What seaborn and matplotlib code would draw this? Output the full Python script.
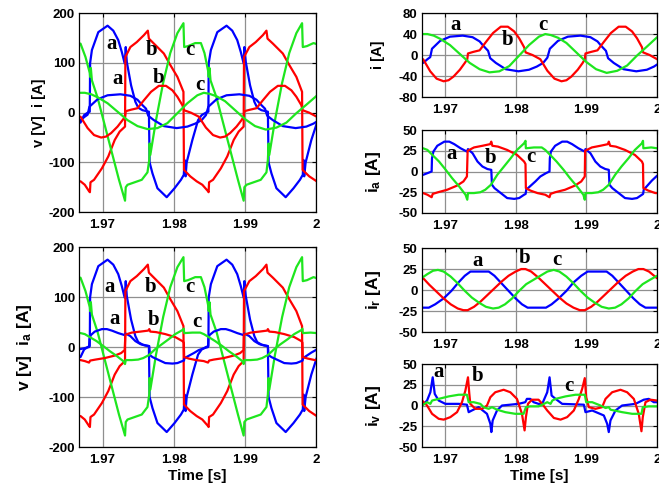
import numpy as np
import pandas as pd
import seaborn as sns
import matplotlib.pyplot as plt

sns.set_theme(style='white')
plt.rcParams['font.family'] = ['Liberation Sans', 'DejaVu Sans']
plt.rcParams['font.weight'] = 'bold'
plt.rcParams['axes.unicode_minus'] = False
plt.rcParams['mathtext.fontset'] = 'custom'
plt.rcParams['mathtext.rm'] = 'Liberation Sans:bold'
plt.rcParams['mathtext.it'] = 'Liberation Sans:bold'
plt.rcParams['mathtext.bf'] = 'Liberation Sans:bold'

T0 = 1.96  # time values below are in ms after this instant

# supply voltages (V) - (ms, value)
va = [(6.9, -20), (7.4, -5), (7.9, 0), (8.2, 2), (8.25, 100), (8.5, 126), (9.4, 162), (10.7, 175),
      (11.5, 165), (12.2, 146), (12.7, 122), (13.1, 99), (13.25, 132), (13.4, 102), (14.0, 55),
      (14.6, 22), (15.0, 10), (15.6, 5), (16.5, 2), (16.6, -100), (17.0, -122), (17.7, -152),
      (19.0, -170), (20.1, -152), (21.0, -135), (21.4, -125), (21.5, -95), (21.65, -128),
      (21.8, -100), (22.6, -55), (23.4, -15), (23.9, -5), (24.5, 0), (24.85, 2), (24.9, 100),
      (25.2, 126), (26.1, 162), (27.4, 175), (28.2, 165), (28.9, 146), (29.4, 122), (29.8, 99),
      (29.9, 132), (30.1, 102), (30.7, 55), (31.3, 22), (31.7, 10), (32.3, 5), (33.2, 2),
      (33.3, -100), (33.7, -122), (34.4, -152), (35.7, -170), (36.8, -152), (37.7, -135),
      (38.1, -125), (38.2, -95), (38.3, -128), (38.5, -100), (39.3, -55), (40.05, -22)]
vb = [(6.9, -138), (7.5, -145), (8.1, -158), (8.22, -160), (8.3, -140), (8.8, -135), (9.9, -112),
      (10.8, -88), (11.7, -55), (12.4, -38), (13.15, -28), (13.2, 112), (13.9, 132), (14.8, 142),
      (15.8, 156), (16.35, 165), (16.5, 149), (17.2, 139), (18.6, 119), (19.5, 96), (20.5, 72),
      (21.35, 42), (21.42, -115), (22.3, -128), (23.2, -138), (24.0, -145), (24.8, -158),
      (24.88, -160), (24.95, -140), (25.5, -135), (26.6, -112), (27.5, -88), (28.4, -55),
      (29.1, -38), (29.8, -28), (29.85, 112), (30.6, 132), (31.5, 142), (32.5, 156), (33.0, 165),
      (33.15, 149), (33.9, 139), (35.3, 119), (36.2, 96), (37.2, 72), (38.0, 42), (38.07, -115),
      (39.0, -128), (40.05, -138)]
vc = [(6.9, 139), (7.6, 112), (8.2, 80), (8.25, 72), (8.35, 90), (8.5, 65), (9.3, 30), (10.3, -25),
      (11.3, -80), (12.3, -135), (13.15, -177), (13.25, -150), (13.5, -145), (14.5, -140),
      (15.5, -135), (16.3, -120), (16.55, -95), (16.6, -62), (16.7, -85), (17.5, -15), (18.5, 60),
      (19.5, 120), (20.5, 160), (21.35, 180), (21.45, 132), (22.0, 134), (23.0, 140), (23.8, 140),
      (24.3, 120), (24.8, 85), (24.9, 72), (25.0, 90), (25.15, 65), (26.0, 30), (27.0, -25),
      (28.0, -80), (29.0, -135), (29.8, -177), (29.9, -150), (30.2, -145), (31.2, -140),
      (32.2, -135), (33.0, -120), (33.2, -95), (33.3, -62), (33.4, -85), (34.2, -15), (35.2, 60),
      (36.2, 120), (37.2, 160), (38.0, 180), (38.1, 132), (38.7, 134), (39.6, 140), (40.05, 138)]

# load currents i (A)
i_a = [(6.9, -15), (7.5, -8), (7.9, -4), (8.15, 12), (9.3, 27), (10.7, 35), (12.5, 37), (13.9, 34),
       (14.9, 26), (15.4, 18), (16.1, 8), (16.4, -6), (17.2, -15), (18.6, -27), (20.4, -31),
       (21.9, -28), (23.0, -22), (23.9, -15), (24.5, -5), (24.85, 12), (26.0, 27), (27.4, 35),
       (29.2, 37), (30.6, 34), (31.6, 26), (32.1, 18), (32.8, 8), (33.1, -6), (33.9, -15),
       (35.3, -27), (37.1, -31), (38.6, -28), (39.6, -22), (40.05, -18)]
i_b = [(6.9, -8), (7.9, -31), (8.8, -45), (9.8, -50), (10.5, -48), (11.2, -41), (12.1, -28),
       (12.8, -15), (13.15, -8), (13.25, 3), (14.0, 6), (14.9, 9), (15.8, 25), (16.8, 42),
       (17.9, 54), (18.9, 54), (19.8, 45), (20.5, 32), (21.2, 15), (21.42, 5), (22.4, 0),
       (23.5, -8), (24.5, -30), (25.5, -45), (26.5, -50), (27.2, -48), (27.9, -41), (28.8, -28),
       (29.5, -15), (29.8, -8), (29.9, 3), (30.7, 6), (31.6, 9), (32.5, 25), (33.5, 42),
       (34.6, 54), (35.6, 54), (36.5, 45), (37.2, 32), (37.9, 15), (38.07, 5), (39.0, 0),
       (40.05, -8)]
i_c = [(6.9, 40), (7.5, 40), (8.4, 37), (9.3, 31), (10.7, 19), (12.1, 2), (13.5, -15), (14.9, -27),
       (16.3, -33), (17.7, -31), (19.1, -21), (20.5, -1), (21.9, 19), (23.3, 35), (24.2, 40),
       (25.0, 38), (26.0, 33), (27.2, 23), (28.6, 5), (30.0, -13), (31.4, -27), (32.9, -34),
       (34.4, -30), (35.8, -20), (37.2, -1), (38.6, 16), (40.05, 34)]

# source currents ia (A)
ia_a = [(6.9, -4), (7.5, -2), (8.1, 0), (8.15, 16), (8.35, 24), (8.9, 31), (9.9, 36), (10.6, 36),
        (11.3, 33), (12.2, 28), (13.1, 24), (13.25, 27), (13.9, 22), (14.6, 12), (15.3, 6),
        (16.0, 3), (16.55, 2), (16.65, -16), (17.0, -20), (17.9, -26), (18.8, -32), (19.8, -33),
        (20.5, -32), (21.2, -28), (21.42, -27), (21.5, -22), (22.8, -12), (23.5, -6), (24.3, -2),
        (24.8, 0), (24.85, 16), (25.0, 24), (25.6, 31), (26.6, 36), (27.3, 36), (28.0, 33),
        (28.9, 28), (29.8, 24), (29.9, 27), (30.6, 22), (31.3, 12), (32.0, 6), (32.7, 3),
        (33.2, 2), (33.3, -16), (33.7, -20), (34.6, -26), (35.5, -32), (36.5, -33), (37.2, -32),
        (37.9, -28), (38.07, -27), (38.15, -22), (39.3, -11), (40.05, -5)]
ia_b = [(6.9, -26), (7.5, -28), (8.1, -31), (8.25, -27), (9.0, -25), (10.3, -22), (11.7, -17),
        (12.6, -12), (13.1, -6), (13.2, 25), (14.1, 29), (15.3, 31), (16.4, 33), (16.55, 36),
        (16.7, 31), (17.5, 30), (18.8, 26), (20.2, 20), (21.2, 12), (21.4, 9), (21.45, -20),
        (22.1, -23), (23.1, -26), (24.2, -28), (24.8, -31), (24.95, -27), (25.6, -25),
        (27.0, -22), (28.4, -17), (29.3, -12), (29.8, -6), (29.85, 25), (30.8, 29), (32.0, 31),
        (33.1, 33), (33.2, 36), (33.4, 31), (34.2, 30), (35.5, 26), (36.9, 20), (37.9, 12),
        (38.05, 9), (38.1, -20), (38.8, -23), (39.8, -26), (40.05, -26)]
ia_c = [(6.9, 28), (7.5, 26), (8.2, 20), (9.15, 12), (10.1, 2), (11.0, -8), (12.0, -18), (12.9, -28),
        (13.15, -34), (13.25, -26), (14.1, -26), (15.0, -25), (15.7, -22), (16.5, -16), (17.4, -4),
        (18.35, 6), (19.3, 16), (20.2, 26), (21.2, 34), (21.4, 37), (21.45, 28), (22.6, 29),
        (23.7, 29), (24.2, 26), (24.9, 20), (25.8, 12), (26.8, 2), (27.7, -8), (28.7, -18),
        (29.6, -28), (29.8, -34), (29.9, -26), (30.8, -26), (31.7, -25), (32.4, -22), (33.2, -16),
        (34.1, -4), (35.0, 6), (36.0, 16), (36.9, 26), (37.9, 34), (38.05, 37), (38.1, 28),
        (39.2, 29), (40.05, 28)]

# ir (A)
ir_a = [(6.8, -21), (7.7, -21), (8.6, -17), (9.8, -10), (10.9, -1), (11.9, 9), (12.8, 17),
        (13.6, 22), (16.2, 22), (17.0, 17), (18.0, 8), (19.0, -1), (20.0, -10), (20.9, -17),
        (21.7, -21), (24.3, -21), (25.1, -17), (26.1, -10), (27.2, -1), (28.2, 9), (29.3, 17),
        (30.2, 22), (32.9, 22), (33.7, 17), (34.7, 8), (35.7, -1), (36.7, -10), (37.6, -17),
        (38.4, -21), (40.05, -21)]
ir_b = [(6.8, 15), (7.8, 6), (8.8, -2), (9.8, -10), (10.8, -17), (11.8, -22), (12.6, -24),
        (13.2, -24), (14.1, -20), (15.0, -14), (16.0, -6), (17.0, 2), (18.0, 10), (19.0, 17),
        (20.0, 22), (20.8, 25), (21.4, 25), (22.2, 22), (23.2, 15), (24.2, 7), (25.2, -1),
        (26.2, -9), (27.2, -16), (28.2, -21), (29.1, -24), (29.8, -24), (30.7, -20), (31.6, -14),
        (32.6, -6), (33.6, 2), (34.6, 10), (35.6, 17), (36.6, 22), (37.4, 25), (38.1, 25),
        (38.9, 22), (40.05, 14)]
ir_c = [(6.8, 15), (7.5, 19), (8.3, 23), (9.0, 24), (9.8, 22), (10.8, 16), (11.8, 8), (12.8, -1),
        (13.8, -9), (14.8, -15), (15.8, -20), (16.8, -22), (17.6, -21), (18.5, -17), (19.5, -10),
        (20.5, -1), (21.5, 7), (22.5, 12), (23.5, 17), (24.5, 22), (25.4, 24), (26.2, 22),
        (27.2, 16), (28.2, 8), (29.2, -1), (30.2, -9), (31.2, -15), (32.2, -20), (33.2, -22),
        (34.1, -21), (35.0, -17), (36.0, -10), (37.0, -1), (38.0, 7), (39.0, 12), (40.05, 17)]

# iv (A)
iv_a = [(6.75, 0), (7.45, 6), (7.92, 16), (8.25, 34), (8.54, 14), (9.1, 6), (10.05, 2), (11.93, 2),
        (13.1, 1), (13.35, -8), (13.8, -6), (14.76, -2), (15.94, -10), (16.42, -22), (16.56, -32),
        (16.75, -18), (17.36, -6), (18.07, 0), (20.42, 2), (21.37, 4), (21.6, 8), (22.08, 8),
        (22.55, 4), (23.25, 2), (23.77, 2), (24.48, 16), (24.81, 34), (25.1, 12), (25.66, 8),
        (26.6, 2), (29.67, 1), (29.9, -8), (30.85, -6), (32.5, -12), (32.97, -22), (33.2, -32),
        (33.44, -18), (34.15, -6), (35.09, 0), (36.98, 2), (38.16, 7), (38.87, 8), (39.58, 4),
        (40.05, 4)]
iv_b = [(6.75, 6), (7.45, 0), (8.16, -10), (9.1, -16), (9.81, -17), (10.75, -14), (11.7, -8),
        (12.4, 4), (12.88, 18), (13.25, 34), (13.44, 14), (13.58, 2), (14.29, -4), (15.24, -4),
        (15.94, 0), (16.42, 10), (17.12, 16), (18.3, 19), (19.25, 16), (20.19, 8), (20.9, -10),
        (21.27, -30), (21.46, -14), (21.75, 2), (22.3, 7), (23.25, 7), (23.77, 2), (24.48, -6),
        (25.42, -15), (26.37, -17), (27.3, -14), (28.25, -6), (28.96, 8), (29.43, 20), (29.8, 33),
        (30.0, 10), (30.38, -2), (31.32, -4), (32.26, -2), (32.74, 8), (33.68, 16), (34.86, 19),
        (35.8, 16), (36.75, 8), (37.45, -10), (37.83, -31), (38.02, -14), (38.4, 4), (39.1, 7),
        (40.05, 6)]
iv_c = [(6.75, 0), (7.45, 4), (7.92, 2), (8.16, 6), (9.1, 8), (10.52, 11), (11.93, 13), (13.1, 13),
        (13.35, 4), (14.06, 4), (15.0, 2), (15.47, -2), (16.18, -4), (16.65, -2), (17.36, -5),
        (18.54, -8), (19.95, -10), (21.13, -10), (21.46, -2), (22.08, -1), (23.25, -1), (23.77, 1),
        (24.48, 4), (24.95, 2), (25.2, 6), (25.66, 8), (27.08, 11), (28.49, 13), (29.8, 13),
        (30.0, 4), (30.85, 4), (32.03, 0), (32.74, -3), (33.2, -2), (33.44, -5), (35.09, -8),
        (36.51, -10), (37.83, -10), (38.02, -2), (38.87, -1), (40.05, -1)]

xticks = [1.97, 1.98, 1.99, 2.0]
xtick_labels = ['1.97', '1.98', '1.99', '2']

BLUE, RED, GREEN = '#0000ff', '#ff0000', '#1ee61e'


def to_frame(pairs):
    df = pd.DataFrame(pairs, columns=['ms', 'val'])
    df['t'] = T0 + df['ms'] / 1000.0
    return df


def panel(ax, curves, ylim, yticks, ylabel, tags, label_x, label_size, xlabel=False):
    for pairs, col in curves:
        sns.lineplot(data=to_frame(pairs), x='t', y='val', ax=ax, color=col, linewidth=1.6,
                     sort=False, estimator=None, legend=False)
    ax.set_xlim(1.9667, 2.0)
    ax.set_ylim(*ylim)
    ax.set_xticks(xticks)
    ax.set_xticklabels(xtick_labels)
    ax.set_yticks(yticks)
    ax.grid(True, color='#8f8f8f', linewidth=0.9)
    ax.tick_params(direction='in', top=True, right=True, length=3, width=0.8,
                   labelsize=9.5, colors='black')
    ax.tick_params(axis='x', pad=5)
    ax.tick_params(axis='y', pad=3)
    for s in ax.spines.values():
        s.set_color('black')
        s.set_linewidth(0.9)
    ax.set_ylabel(ylabel, fontsize=label_size, fontweight='bold', color='black')
    ax.yaxis.set_label_coords(label_x, 0.5)
    ax.set_xlabel('Time [s]' if xlabel else '', fontsize=11, fontweight='bold',
                  color='black', labelpad=2)
    for ms, val, s in tags:
        ax.text(T0 + ms / 1000.0, val, s, family='Liberation Serif', fontweight='bold',
                fontsize=15, ha='center', va='center', color='black')


fig = plt.figure(figsize=(6.59, 4.91), dpi=100)

ax1 = fig.add_axes([0.120, 0.568, 0.360, 0.405])
panel(ax1, [(va, BLUE), (vb, RED), (vc, GREEN), (i_a, BLUE), (i_b, RED), (i_c, GREEN)],
      (-200, 200), [-200, -100, 0, 100, 200], 'v [V]  i [A]',
      [(11.3, 139, 'a'), (16.9, 126, 'b'), (22.2, 126, 'c'),
       (12.1, 67, 'a'), (17.9, 69, 'b'), (23.6, 55, 'c')], -0.14, 10.5)

ax2 = fig.add_axes([0.120, 0.0896, 0.360, 0.407])
panel(ax2, [(va, BLUE), (vb, RED), (vc, GREEN), (ia_a, BLUE), (ia_b, RED), (ia_c, GREEN)],
      (-200, 200), [-200, -100, 0, 100, 200], r'v [v]  i$_{\rm a}$ [A]',
      [(11.0, 121, 'a'), (16.7, 121, 'b'), (22.2, 121, 'c'),
       (11.7, 57, 'a'), (17.2, 55, 'b'), (23.3, 50, 'c')], -0.19, 12.5, xlabel=True)

rx, rw = 0.640, 0.3566
ax3 = fig.add_axes([rx, 0.8024, rw, 0.171])
panel(ax3, [(i_a, BLUE), (i_b, RED), (i_c, GREEN)], (-80, 80), [-80, -40, 0, 40, 80],
      'i [A]', [(11.5, 57, 'a'), (18.8, 28, 'b'), (23.9, 57, 'c')], -0.155, 10.5)

ax4 = fig.add_axes([rx, 0.5662, rw, 0.169])
panel(ax4, [(ia_a, BLUE), (ia_b, RED), (ia_c, GREEN)], (-50, 50), [-50, -25, 0, 25, 50],
      r'i$_{\rm a}$ [A]', [(10.9, 21, 'a'), (16.5, 16, 'b'), (22.1, 18, 'c')], -0.165, 12.5)

ax5 = fig.add_axes([rx, 0.3238, rw, 0.171])
panel(ax5, [(ir_a, BLUE), (ir_b, RED), (ir_c, GREEN)], (-50, 50), [-50, -25, 0, 25, 50],
      r'i$_{\rm r}$ [A]', [(14.6, 34, 'a'), (21.2, 38, 'b'), (25.9, 36, 'c')], -0.165, 12.5)

ax6 = fig.add_axes([rx, 0.0896, rw, 0.169])
panel(ax6, [(iv_a, BLUE), (iv_b, RED), (iv_c, GREEN)], (-50, 50), [-50, -25, 0, 25, 50],
      r'i$_{\rm v}$ [A]', [(9.1, 40, 'a'), (14.6, 36, 'b'), (27.5, 24, 'c')], -0.165, 12.5,
      xlabel=True)

fig.savefig('out.png', dpi=100)
